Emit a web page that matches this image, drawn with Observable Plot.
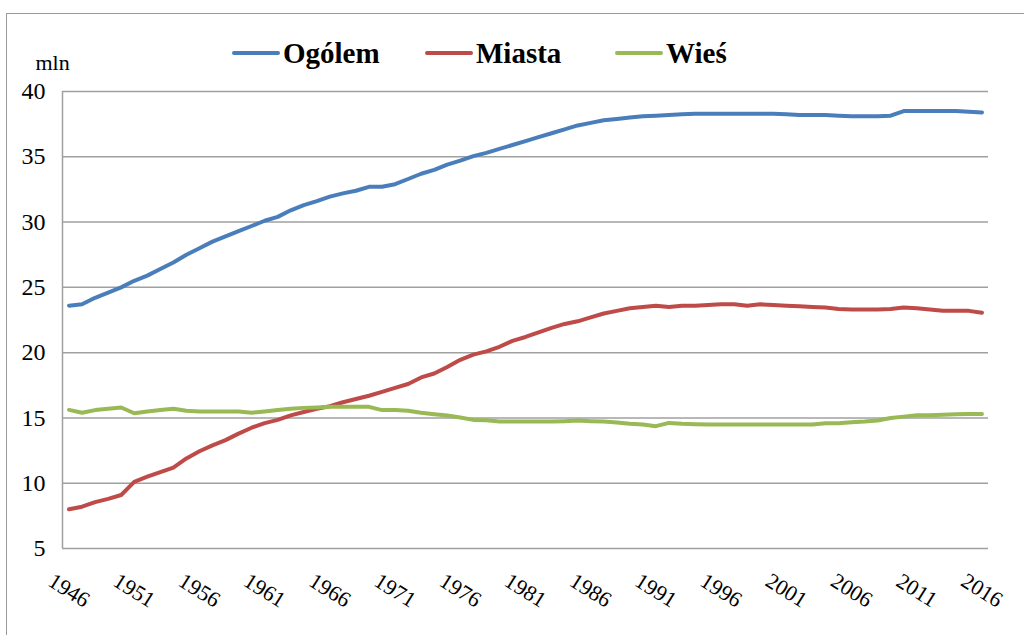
<!DOCTYPE html>
<html><head><meta charset="utf-8">
<script src="https://cdn.jsdelivr.net/npm/d3@7"></script>
<script src="https://cdn.jsdelivr.net/npm/@observablehq/plot@0.6"></script>
<style>
body{margin:0;background:#fff;font-family:'Liberation Serif';}
#wrap{position:relative;width:1024px;height:635px;overflow:hidden;font-family:'Liberation Serif';}
#frame{position:absolute;left:6px;top:13px;width:1040px;height:660px;border-left:1.5px solid #999;border-top:1.5px solid #999;}
#chart{position:absolute;left:0;top:0;}
svg text{font-family:'Liberation Serif';}
.sw{display:inline-block;width:48px;height:4px;margin-right:3px;border-radius:2px;vertical-align:middle;position:relative;top:-3px;}
</style></head><body>
<div id="wrap"><div id="frame"></div><div id="chart"></div>
<div id="lg0" style="position:absolute;left:232px;top:35px;font-family:'Liberation Serif';font-weight:bold;font-size:29px;line-height:36px;color:#000;white-space:nowrap"><span class="sw"></span><span class="tx"></span></div>
<div id="lg1" style="position:absolute;left:425px;top:35px;font-family:'Liberation Serif';font-weight:bold;font-size:29px;line-height:36px;color:#000;white-space:nowrap"><span class="sw"></span><span class="tx"></span></div>
<div id="lg2" style="position:absolute;left:615px;top:35px;font-family:'Liberation Serif';font-weight:bold;font-size:29px;line-height:36px;color:#000;white-space:nowrap"><span class="sw"></span><span class="tx"></span></div>
</div>
<script>
const years = [1946,1947,1948,1949,1950,1951,1952,1953,1954,1955,1956,1957,1958,1959,1960,1961,1962,1963,1964,1965,1966,1967,1968,1969,1970,1971,1972,1973,1974,1975,1976,1977,1978,1979,1980,1981,1982,1983,1984,1985,1986,1987,1988,1989,1990,1991,1992,1993,1994,1995,1996,1997,1998,1999,2000,2001,2002,2003,2004,2005,2006,2007,2008,2009,2010,2011,2012,2013,2014,2015,2016];
const ogolem = [23.6,23.7,24.2,24.6,25.0,25.5,25.9,26.4,26.9,27.5,28.0,28.5,28.9,29.3,29.7,30.1,30.4,30.9,31.3,31.6,31.95,32.2,32.4,32.7,32.7,
  32.9,33.3,33.7,34.0,34.4,34.7,35.05,35.3,35.6,35.9,36.2,36.5,36.8,37.1,37.4,37.6,37.8,37.9,38.0,38.1,38.15,38.2,38.25,
  38.3,38.3,38.3,38.3,38.3,38.3,38.3,38.25,38.2,38.2,38.2,38.15,38.1,38.1,38.1,38.15,38.5,38.5,38.5,38.5,38.5,38.45,38.4];
const miasta = [8.0,8.2,8.55,8.8,9.1,10.1,10.5,10.85,11.2,11.9,12.45,12.9,13.3,13.8,14.25,14.6,14.85,15.2,15.45,15.7,15.9,16.2,16.45,16.7,17.0,
  17.3,17.6,18.1,18.4,18.9,19.45,19.85,20.1,20.45,20.9,21.2,21.55,21.9,22.2,22.4,22.7,23.0,23.2,23.4,23.5,23.6,23.5,23.6,
  23.6,23.65,23.7,23.7,23.6,23.7,23.65,23.6,23.55,23.5,23.45,23.35,23.3,23.3,23.3,23.35,23.45,23.4,23.3,23.2,23.2,23.2,23.05];
const wies = [15.62,15.4,15.6,15.7,15.8,15.36,15.5,15.6,15.7,15.55,15.5,15.5,15.5,15.5,15.4,15.5,15.6,15.7,15.77,15.8,15.85,15.85,15.85,15.85,15.6,
  15.6,15.55,15.4,15.28,15.18,15.03,14.85,14.83,14.72,14.72,14.72,14.72,14.72,14.75,14.8,14.75,14.72,14.65,14.55,14.5,14.37,14.62,14.55,
  14.52,14.5,14.5,14.5,14.5,14.5,14.5,14.5,14.5,14.5,14.6,14.6,14.67,14.72,14.8,15.0,15.1,15.2,15.2,15.25,15.28,15.3,15.3];
const seriesNames = ["Ogólem","Miasta","Wieś"];
const seriesColors = ["#4A7EBB","#BE4B48","#98B954"];
const yTicks = [5,10,15,20,25,30,35,40];
const xTicks = [1946,1951,1956,1961,1966,1971,1976,1981,1986,1991,1996,2001,2006,2011,2016];
const yUnit = "mln";
const FONT = "Liberation Serif";

const values = [ogolem, miasta, wies];
const lines = values.map((vals, k) => Plot.line(years, {
  x: years, y: vals, stroke: seriesColors[k], strokeWidth: 4,
  strokeLinejoin: "round", strokeLinecap: "round"
}));

const chart = Plot.plot({
  width: 1024, height: 635,
  marginLeft: 62, marginRight: 36, marginTop: 91, marginBottom: 87,
  style: "font-family: 'Liberation Serif'; font-size: 22px; color: #000; background: transparent;",
  x: {domain: [1945.5, 2016.5]},
  y: {domain: [5, 40]},
  marks: [
    Plot.gridY(yTicks, {stroke: "#a0a0a0", strokeOpacity: 1, strokeWidth: 1.5}),
    Plot.ruleX([1945.5], {y1: 5, y2: 40, stroke: "#a0a0a0", strokeWidth: 1.5}),
    Plot.axisY(yTicks, {tickSize: 0, tickPadding: 17, fontSize: 24, fontFamily: FONT, label: null, tickFormat: d => String(d)}),
    Plot.axisX(xTicks, {tickSize: 0, tickPadding: 42, rotate: 32, textAnchor: "middle", lineAnchor: "middle", fontSize: 22, fontFamily: FONT, label: null, tickFormat: d => String(d)}),
    ...lines,
    Plot.text([yUnit], {frameAnchor: "top-left", dx: -27, dy: -29, textAnchor: "start", lineAnchor: "middle", fontSize: 22, fontFamily: FONT})
  ]
});
chart.querySelectorAll("text").forEach(t => { t.setAttribute("font-family", FONT); t.style.fontFamily = "'" + FONT + "'"; });
document.getElementById("chart").appendChild(chart);

seriesNames.forEach((n, k) => {
  const it = document.getElementById("lg" + k);
  it.querySelector(".sw").style.background = seriesColors[k];
  it.querySelector(".tx").textContent = n;
});
</script>
</body></html>
